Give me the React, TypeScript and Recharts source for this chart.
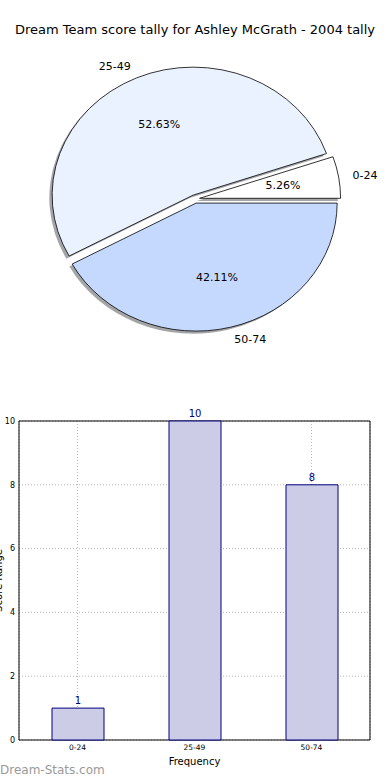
import React from "react";
import {
  PieChart,
  Pie,
  Cell,
  BarChart,
  Bar,
  XAxis,
  YAxis,
  CartesianGrid,
  LabelList,
  ReferenceArea,
} from "recharts";

const categories = ["0-24", "25-49", "50-74"];
const counts = [1, 10, 8];
const pieColors = ["#ffffff", "#ebf2ff", "#c5d9ff"];
const yTicks = [0, 2, 4, 6, 8, 10];

const title = "Dream Team score tally for Ashley McGrath - 2004 tally";

const data = categories.map((name, i) => ({ name, value: counts[i] }));

const FONT = "'DejaVu Sans', sans-serif";
const RAD = Math.PI / 180;
const SQUASH = 128 / 141; // pie is drawn as an ellipse
const EXPLODE = 0.033;

// geometry of one exploded, elliptical wedge
function wedge(cx: number, cy: number, r: number, sa: number, ea: number) {
  const mid = ((sa + ea) / 2) * RAD;
  const x0 = cx + EXPLODE * r * Math.cos(mid);
  const y0 = cy - EXPLODE * r * SQUASH * Math.sin(mid);
  const pt = (a: number, rr: number) => [
    x0 + rr * Math.cos(a * RAD),
    y0 - rr * SQUASH * Math.sin(a * RAD),
  ];
  return { x0, y0, mid, pt };
}

function wedgePath(p: any) {
  const { cx, cy, outerRadius: r, startAngle: sa, endAngle: ea } = p;
  const w = wedge(cx, cy, r, sa, ea);
  const [x1, y1] = w.pt(sa, r);
  const [x2, y2] = w.pt(ea, r);
  const large = Math.abs(ea - sa) > 180 ? 1 : 0;
  return `M${w.x0},${w.y0} L${x1},${y1} A${r},${r * SQUASH} 0 ${large} 0 ${x2},${y2} Z`;
}

const SliceShape = (p: any) => (
  <path d={wedgePath(p)} fill={p.fill} stroke="#000" strokeWidth={0.8} />
);

const ShadowShape = (p: any) => (
  <path
    d={wedgePath(p)}
    transform="translate(-2.8,2.6)"
    fill="#4a4c4f"
    fillOpacity={0.5}
    stroke="none"
  />
);

const renderPieLabel = (p: any) => {
  const { cx, cy, outerRadius: r, startAngle, endAngle, percent, name } = p;
  const w = wedge(cx, cy, r, startAngle, endAngle);
  const midDeg = (startAngle + endAngle) / 2;
  const [lx, ly] = w.pt(midDeg, r * 1.1);
  const [px, py] = w.pt(midDeg, r * 0.6);
  return (
    <g>
      <text
        x={lx}
        y={ly}
        textAnchor={Math.cos(w.mid) > 0 ? "start" : "end"}
        dominantBaseline="central"
        fontSize={11}
        fontFamily={FONT}
        fill="#000"
      >
        {name}
      </text>
      <text
        x={px}
        y={py}
        textAnchor="middle"
        dominantBaseline="central"
        fontSize={11}
        fontFamily={FONT}
        fill="#000"
      >
        {(percent * 100).toFixed(2)}%
      </text>
    </g>
  );
};

const YLabel = (props: any) => {
  const vb = props.viewBox || { x: 0, y: 421, height: 319 };
  const x = 2;
  const y = vb.y + vb.height / 2;
  return (
    <text
      x={x}
      y={y}
      transform={`rotate(-90 ${x} ${y})`}
      textAnchor="middle"
      fontSize={10}
      fontFamily={FONT}
      fill="#000"
    >
      Score Range
    </text>
  );
};

export default function App() {
  return (
    <div
      style={{
        position: "absolute",
        left: 0,
        top: 0,
        width: 390,
        height: 780,
        background: "#fff",
        fontFamily: FONT,
        overflow: "hidden",
      }}
    >
      <div
        style={{
          position: "absolute",
          top: 21,
          left: 0,
          width: 390,
          textAlign: "center",
          fontSize: 13,
          lineHeight: "18px",
          whiteSpace: "nowrap",
          color: "#000",
        }}
      >
        {title}
      </div>

      <div style={{ position: "absolute", left: 0, top: 0 }}>
        <PieChart width={390} height={360}>
          <Pie
            data={data}
            dataKey="value"
            nameKey="name"
            cx={190}
            cy={194}
            outerRadius={141}
            startAngle={0}
            endAngle={360}
            shape={ShadowShape}
            isAnimationActive={false}
            labelLine={false}
          />
          <Pie
            data={data}
            dataKey="value"
            nameKey="name"
            cx={190}
            cy={194}
            outerRadius={141}
            startAngle={0}
            endAngle={360}
            shape={SliceShape}
            label={renderPieLabel}
            labelLine={false}
            isAnimationActive={false}
          >
            {data.map((d, i) => (
              <Cell key={d.name} fill={pieColors[i]} />
            ))}
          </Pie>
        </PieChart>
      </div>

      <div style={{ position: "absolute", left: 0, top: 400 }}>
        <BarChart
          width={390}
          height={380}
          data={data}
          margin={{ top: 21, right: 20, bottom: 0, left: 0 }}
        >
          <CartesianGrid stroke="#b8b8b8" strokeDasharray="1 2" />
          <XAxis
            dataKey="name"
            height={40}
            tickSize={0}
            tickMargin={5}
            axisLine={false}
            tick={{ fontSize: 7.5, fill: "#000", fontFamily: FONT }}
            label={{
              value: "Frequency",
              position: "insideBottom",
              offset: 15,
              fontSize: 10,
              fill: "#000",
              fontFamily: FONT,
            }}
          />
          <YAxis
            width={19}
            domain={[0, 10]}
            ticks={yTicks}
            tickSize={0}
            tickMargin={4}
            axisLine={false}
            tick={{ fontSize: 8, fill: "#000", fontFamily: FONT }}
            label={<YLabel />}
          />
          <ReferenceArea
            y1={0}
            y2={10}
            fill="none"
            stroke="#000"
            strokeWidth={1}
            ifOverflow="extendDomain"
          />
          <Bar
            dataKey="value"
            barSize={52}
            fill="#cccce6"
            stroke="#000080"
            strokeWidth={1}
            isAnimationActive={false}
          >
            <LabelList
              dataKey="value"
              position="top"
              offset={4}
              fill="#000080"
              fontSize={10}
              fontFamily={FONT}
            />
          </Bar>
        </BarChart>
      </div>

      <div
        style={{
          position: "absolute",
          left: 0,
          top: 762,
          fontSize: 12,
          lineHeight: "16px",
          color: "#9a9a9a",
          whiteSpace: "nowrap",
        }}
      >
        Dream-Stats.com
      </div>
    </div>
  );
}
